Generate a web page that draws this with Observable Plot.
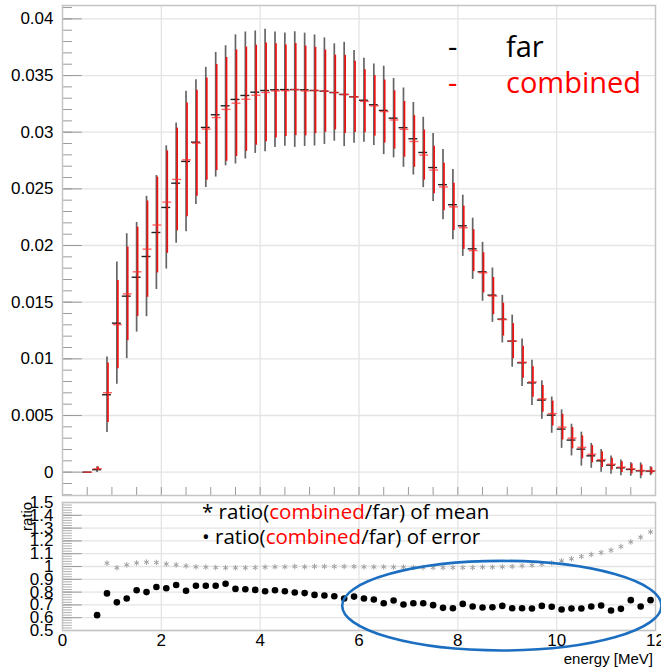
<!DOCTYPE html>
<html><head><meta charset="utf-8">
<script src="https://cdn.jsdelivr.net/npm/d3@7"></script>
<script src="https://cdn.jsdelivr.net/npm/@observablehq/plot@0.6"></script>
<style>
body{margin:0;background:#fff;}
#root{position:relative;width:661px;height:670px;overflow:hidden;font-family:"Liberation Sans",Arial,sans-serif;background:#fff;}
#top{position:absolute;left:0;top:0;}
#bot{position:absolute;left:0;top:497px;}
.lg{position:absolute;font-family:"Open Sans",sans-serif;white-space:nowrap;line-height:1;}
.red{color:#ff0000;}
</style></head><body>
<div id="root">
<div id="top"></div>
<div id="bot"></div>
<div class="lg" style="left:448px;top:31px;font-size:29px;color:#000">-</div>
<div class="lg" style="left:506px;top:31px;font-size:29px;color:#000">far</div>
<div class="lg red" style="left:448px;top:67px;font-size:29px">-</div>
<div class="lg red" style="left:506px;top:67px;font-size:29px">combined</div>
<div class="lg" style="left:202px;top:501px;font-size:20.5px;color:#000">* ratio(<span class="red">combined</span>/far) of mean</div>
<div class="lg" style="left:202px;top:526px;font-size:20.5px;color:#000">• ratio(<span class="red">combined</span>/far) of error</div>
<div style="position:absolute;left:553px;top:650px;font-size:15px;color:#000;width:100px;text-align:right;font-family:'Liberation Sans'">energy [MeV]</div>
<div style="position:absolute;left:12px;top:508px;font-size:15px;transform:rotate(-90deg);transform-origin:center;">ratio</div>
</div>
<script>
// bin centres (MeV)
const energy = [0.5,0.7,0.9,1.1,1.3,1.5,1.7,1.9,2.1,2.3,2.5,2.7,2.9,3.1,3.3,3.5,3.7,3.9,4.1,4.3,4.5,4.7,4.9,5.1,5.3,5.5,5.7,5.9,6.1,6.3,6.5,6.7,6.9,7.1,7.3,7.5,7.7,7.9,8.1,8.3,8.5,8.7,8.9,9.1,9.3,9.5,9.7,9.9,10.1,10.3,10.5,10.7,10.9,11.1,11.3,11.5,11.7,11.9];
const farMean = [0,0.00022,0.00683,0.01315,0.01553,0.0172,0.01903,0.02115,0.02336,0.0255,0.02742,0.02912,0.03042,0.03154,0.03233,0.03289,0.03324,0.03353,0.03368,0.03374,0.03376,0.03376,0.03374,0.03368,0.03362,0.0335,0.03333,0.03312,0.03282,0.03242,0.03192,0.03124,0.0304,0.02942,0.02821,0.02688,0.02537,0.0236,0.02174,0.01971,0.01768,0.01562,0.0135,0.01156,0.00965,0.00788,0.00636,0.00503,0.0038,0.00283,0.00203,0.00144,0.001,0.00062,0.00038,0.00024,0.00012,0.00009];
const farErr = [0,0.00025,0.00333,0.0054,0.00551,0.00484,0.00531,0.00503,0.00544,0.0053,0.0062,0.0055,0.0053,0.0055,0.0053,0.0057,0.0056,0.0054,0.0054,0.0051,0.005,0.0051,0.005,0.0049,0.0047,0.0043,0.0046,0.0041,0.0037,0.0036,0.0039,0.0035,0.0035,0.0032,0.0031,0.003,0.0031,0.0031,0.0027,0.0027,0.0026,0.0024,0.0021,0.0023,0.0021,0.002,0.0017,0.0016,0.0017,0.0014,0.0015,0.0011,0.001,0.0008,0.0007,0.0006,0.0007,0.0004];
const combMean = [0,0.0003,0.00701,0.01302,0.01573,0.01768,0.01968,0.02181,0.02383,0.02583,0.02756,0.02903,0.03027,0.03129,0.03201,0.03256,0.03291,0.03326,0.03351,0.03364,0.03366,0.03376,0.03364,0.03368,0.03362,0.0335,0.03333,0.03312,0.03272,0.03232,0.03182,0.03108,0.03025,0.02918,0.02798,0.02666,0.02517,0.02341,0.02157,0.01955,0.01759,0.01554,0.01346,0.01156,0.0097,0.00796,0.00647,0.00517,0.00397,0.003,0.00219,0.00158,0.00111,0.0007,0.00044,0.00029,0.00015,0.00011];
const combErr = [0,0.000155,0.00263,0.00389,0.00413,0.00394,0.00425,0.00423,0.00452,0.00453,0.00502,0.00468,0.00451,0.00468,0.00458,0.0047,0.0046,0.00441,0.00436,0.00416,0.00404,0.00406,0.00396,0.00381,0.00363,0.0033,0.00345,0.00314,0.00278,0.00267,0.00278,0.00257,0.00246,0.00228,0.00221,0.00209,0.0021,0.00209,0.00191,0.00185,0.00177,0.00164,0.00145,0.00155,0.00142,0.00134,0.00118,0.0011,0.00113,0.00094,0.00101,0.00076,0.0007,0.00052,0.00047,0.00044,0.00048,0.00029];
// ratio panel
const ratioMean = [null,null,1.026,0.99,1.013,1.028,1.034,1.031,1.02,1.013,1.005,0.997,0.995,0.992,0.99,0.99,0.99,0.992,0.995,0.997,0.997,1.0,0.997,1.0,1.0,1.0,1.0,1.0,0.997,0.997,0.997,0.995,0.995,0.992,0.992,0.992,0.992,0.992,0.992,0.992,0.995,0.995,0.997,1.0,1.005,1.01,1.018,1.028,1.044,1.06,1.078,1.094,1.109,1.127,1.156,1.192,1.229,1.27];
const ratioErr = [null,0.62,0.79,0.72,0.75,0.815,0.8,0.84,0.83,0.855,0.81,0.85,0.85,0.85,0.865,0.825,0.822,0.817,0.807,0.815,0.807,0.797,0.792,0.778,0.773,0.767,0.75,0.765,0.75,0.742,0.713,0.734,0.703,0.713,0.713,0.698,0.677,0.674,0.708,0.687,0.68,0.682,0.692,0.674,0.674,0.672,0.692,0.685,0.664,0.672,0.672,0.687,0.695,0.656,0.669,0.737,0.687,0.737];
// axes
const topYTicks = [0,0.005,0.01,0.015,0.02,0.025,0.03,0.035,0.04];
const topYLabels = ["0","0.005","0.01","0.015","0.02","0.025","0.03","0.035","0.04"];
const xTicks = [0,2,4,6,8,10,12];
const ratioTicks = [0.5,0.6,0.7,0.8,0.9,1,1.1,1.2,1.3,1.4,1.5];
const ratioLabels = ["0.5","0.6","0.7","0.8","0.9","1","1.1","1.2","1.3","1.4","1.5"];
// annotation ellipse (data units)
const ellipseCentre = {x: 8.9, y: 0.69};
const ellipseRadius = {x: 3.23, y: 0.35};

const halfBin = 0.09;
const rows = energy.map((e, i) => ({e, far: farMean[i], farErr: farErr[i], comb: combMean[i], combErr: combErr[i], rm: ratioMean[i], re: ratioErr[i]}));
const shown = rows.filter(d => d.e > 0.6);

const gridCol = "#e4e4e4";
const frameCol = "#c4c4c4";
const tickCol = "#9a9a9a";

const topMinor = d3.range(-0.002, 0.0411, 0.001).map(v => +v.toFixed(4));
const topPlot = Plot.plot({
  width: 661, height: 497,
  marginLeft: 62, marginRight: 6, marginTop: 5, marginBottom: 2,
  x: {domain: [0, 12], axis: null, label: null},
  y: {domain: [-0.00206, 0.04118], label: null},
  style: {fontFamily: "Liberation Sans, Arial, sans-serif", fontSize: "17px", background: "white", color: "#000"},
  marks: [
    Plot.gridY(topYTicks, {stroke: gridCol, strokeOpacity: 1, strokeWidth: 1.3}),
    Plot.gridX([2,4,6,8,10], {stroke: gridCol, strokeOpacity: 1, strokeWidth: 1.3}),
    Plot.ruleY(topMinor, {y: d => d, x1: 0, x2: 0.2, stroke: tickCol, strokeWidth: 1}),
    Plot.ruleY(topYTicks, {y: d => d, x1: 0, x2: 0.4, stroke: tickCol, strokeWidth: 1}),
    Plot.ruleX(d3.range(0.5, 12, 0.5), {x: d => d, y1: -0.00206, y2: -0.00135, stroke: tickCol, strokeWidth: 1}),
    Plot.axisY(topYTicks, {tickSize: 0, tickPadding: 9, tickFormat: (d, i) => topYLabels[i], fontSize: 17, label: null}),
    Plot.frame({stroke: frameCol, strokeWidth: 1.5}),
    Plot.ruleX(rows, {x: "e", y1: d => d.far - d.farErr, y2: d => d.far + d.farErr, stroke: "#4a4a4a", strokeWidth: 1.7, strokeOpacity: 0.85}),
    Plot.ruleY(rows, {y: "far", x1: d => d.e - halfBin, x2: d => d.e + halfBin, stroke: "#222", strokeWidth: 1.4}),
    Plot.ruleX(rows, {x: "e", dx: 1, y1: d => d.comb - d.combErr, y2: d => d.comb + d.combErr, stroke: "#ee1111", strokeWidth: 1.7}),
    Plot.ruleY(rows, {y: "comb", dx: 1, x1: d => d.e - halfBin, x2: d => d.e + halfBin, stroke: "#ff3030", strokeWidth: 1.4, strokeOpacity: 0.75})
  ]
});
document.getElementById("top").append(topPlot);

const ratioMinor = d3.range(0.5, 1.501, 0.02).map(v => +v.toFixed(2));
const ellipseMark = (index, scales) => {
  const svg = d3.create("svg:ellipse")
    .attr("cx", scales.x(ellipseCentre.x))
    .attr("cy", scales.y(ellipseCentre.y))
    .attr("rx", scales.x(ellipseCentre.x + ellipseRadius.x) - scales.x(ellipseCentre.x))
    .attr("ry", scales.y(ellipseCentre.y) - scales.y(ellipseCentre.y + ellipseRadius.y))
    .attr("fill", "none").attr("stroke", "#1c6fc0").attr("stroke-width", 2.6);
  return svg.node();
};
const botPlot = Plot.plot({
  width: 661, height: 173,
  marginLeft: 62, marginRight: 6, marginTop: 5, marginBottom: 40,
  x: {domain: [0, 12], label: null},
  y: {domain: [0.5, 1.5], label: null},
  style: {fontFamily: "Liberation Sans, Arial, sans-serif", fontSize: "17px", background: "white", color: "#000", overflow: "visible"},
  marks: [
    Plot.gridY(ratioTicks, {stroke: gridCol, strokeOpacity: 1, strokeWidth: 1.3}),
    Plot.gridX([2,4,6,8,10], {stroke: gridCol, strokeOpacity: 1, strokeWidth: 1.3}),
    Plot.ruleY(ratioMinor, {y: d => d, x1: 0, x2: 0.2, stroke: tickCol, strokeWidth: 0.8}),
    Plot.ruleY(ratioTicks, {y: d => d, x1: 0, x2: 0.4, stroke: tickCol, strokeWidth: 1}),
    Plot.axisY(ratioTicks, {tickSize: 0, tickPadding: 9, tickFormat: (d, i) => ratioLabels[i], fontSize: 17, label: null}),
    Plot.axisX(xTicks, {tickSize: 0, tickPadding: 3, fontSize: 17, label: null}),
    Plot.frame({stroke: frameCol, strokeWidth: 1.5}),
    Plot.dot(shown.filter(d => d.rm != null), {x: "e", y: "rm", symbol: "asterisk", r: 2.6, stroke: "#a0a0a0", strokeWidth: 1}),
    Plot.dot(shown, {x: "e", y: "re", r: 3.3, fill: "#000", stroke: "none"}),
    ellipseMark
  ]
});
document.getElementById("bot").append(botPlot);
</script>
</body></html>
